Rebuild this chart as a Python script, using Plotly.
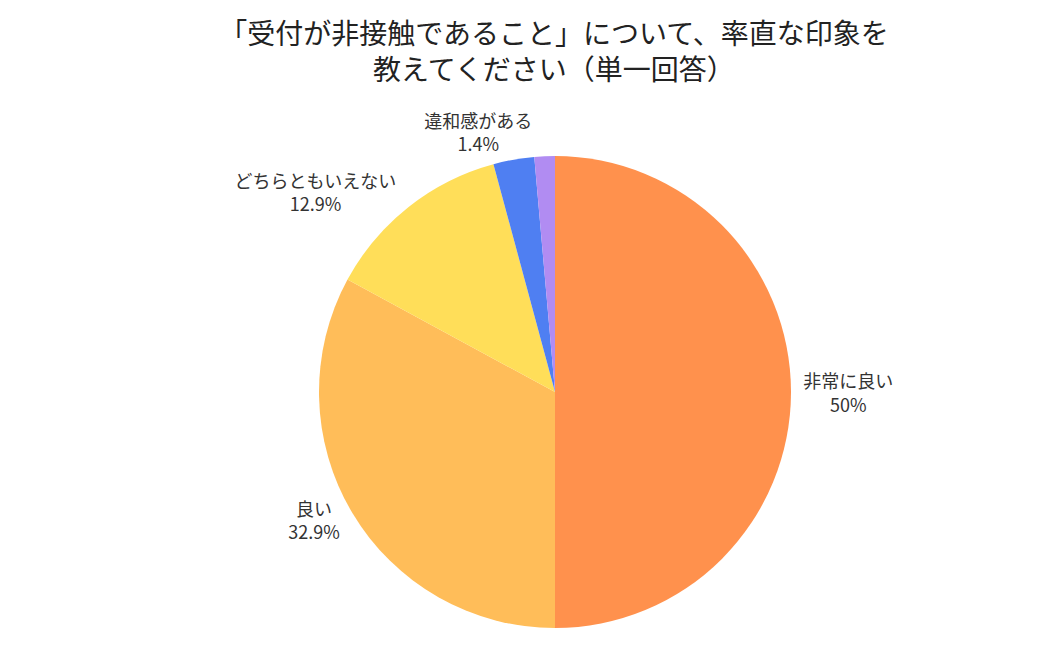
import plotly.graph_objects as go

labels = ['非常に良い', '良い', 'どちらともいえない', 'その他', '違和感がある']
percents = [50, 32.9, 12.9, 2.8, 1.4]
colors = ['#FF914D', '#FFBD59', '#FFDE59', '#4F7FF2', '#B18CF2']
show_label = [True, True, True, False, True]

title = '「受付が非接触であること」について、率直な印象を<br>教えてください（単一回答）'

templates = ['%{label}<br>%{value}%' if s else '' for s in show_label]

fig = go.Figure(
    go.Pie(
        labels=labels,
        values=percents,
        sort=False,
        direction='clockwise',
        rotation=0,
        marker=dict(colors=colors, line=dict(width=0)),
        textposition='outside',
        texttemplate=templates,
        textfont=dict(size=18, color='#333333'),
        outsidetextfont=dict(size=18, color='#333333'),
        hoverinfo='label+value',
        showlegend=False,
        domain=dict(x=[311 / 1050, 783 / 1050], y=[29 / 649, 501 / 649]),
    )
)

fig.update_layout(
    title=dict(
        text=title,
        x=0.52,
        xanchor='center',
        y=0.945,
        yanchor='middle',
        font=dict(size=28, color='#222222'),
    ),
    font=dict(family='Noto Sans CJK JP, Noto Sans, sans-serif'),
    margin=dict(l=0, r=0, t=0, b=0),
    width=1050,
    height=649,
    paper_bgcolor='white',
    plot_bgcolor='white',
)

fig.write_html('out.html')
